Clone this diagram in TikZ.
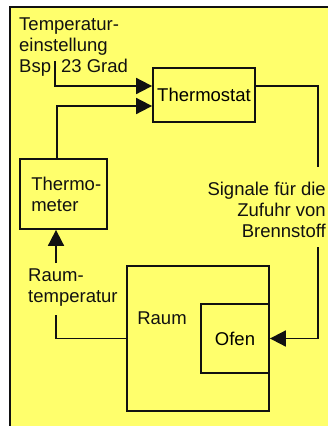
\documentclass[tikz,border=0pt]{standalone}
\usepackage{fontspec}
\setmainfont{Liberation Sans}
\usepackage{tikz}
\usetikzlibrary{arrows.meta,positioning,calc}
\definecolor{paper}{HTML}{FFFF6C}
\definecolor{ink}{HTML}{111111}
\tikzset{
  box/.style={draw=ink,line width=1.8pt,inner sep=0pt,align=center},
  arr/.style={-{Triangle[length=16pt,width=16pt]},line width=1.8pt,draw=ink},
  wire/.style={line width=1.8pt,draw=ink},
  txt/.style={inner sep=0pt,text=ink}
}

\begin{document}
\begin{tikzpicture}[x=1pt,y=-1pt,font=\fontsize{18.5}{21}\selectfont]
 \useasboundingbox (0,0) rectangle (328,426);
 \fill[paper] (10,7) rectangle (328,426);
 \draw[wire] (10,426) -- (10,7) -- (328,7);
 % boxes
 \node[box,minimum width=102pt,minimum height=54pt] (thermostat) at (204,95) {Thermostat};
 \node[box,minimum width=87pt,minimum height=70pt] (thermometer) at (63.5,194) {};
 \node[txt,align=left,anchor=west] (thermolbl) at (thermometer.west) [xshift=12pt] {Thermo-\\meter};
 \node[box,minimum width=142pt,minimum height=145pt] (raum) at (198,338.5) {};
 \node[txt] (raumlbl) at (162,318) {Raum};
 \node[box,minimum width=68pt,minimum height=69pt,anchor=east] (ofen) at (raum.east |- 0,338.5) {Ofen};
 % texts
 \node[txt,align=left,anchor=west] (soll) at (19,47) {Temperatur-\\einstellung\\Bsp\hspace{10pt}23 Grad};
 \node[txt,align=right,anchor=east] (signal) at (326,210) {Signale für die\\Zufuhr von\\Brennstoff};
 \node[txt,align=left,anchor=west] (raumtemp) at (28,288) {Raum-\\temperatur};
 \coordinate (solltop) at (55,61);
 \coordinate (sigtop) at (318,167);
 \coordinate (sigbot) at (318,247);
 \coordinate (rttop) at (56,263);
 \coordinate (rtbot) at (56,315);
 % connectors
 \draw[arr] (solltop) |- ([yshift=9pt]thermostat.west);
 \draw[arr] ([xshift=-6.5pt]thermometer.north) |- ([yshift=-11pt]thermostat.west);
 \draw[wire] ([yshift=9pt]thermostat.east) -| (sigtop);
 \draw[arr] (sigbot) |- (ofen.east);
 \draw[arr] (rttop) -- (rttop |- thermometer.south);
 \draw[wire] (rtbot) |- (raum.west);
\end{tikzpicture}
\end{document}
